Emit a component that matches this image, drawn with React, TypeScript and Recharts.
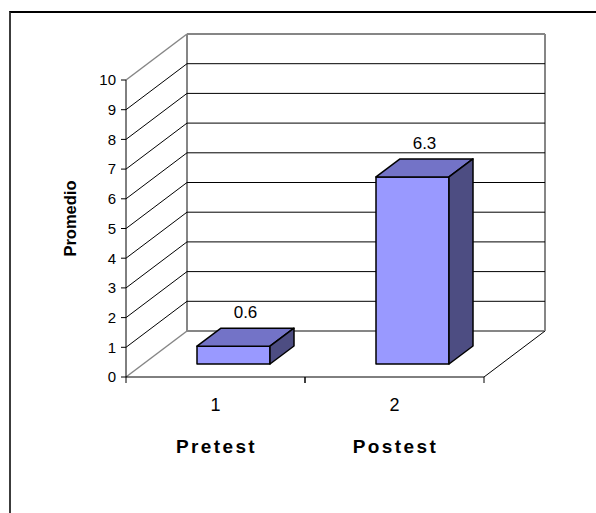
import React from 'react';
import { BarChart, Bar, XAxis, YAxis, CartesianGrid, LabelList } from 'recharts';

const categories = ['1', '2'];
const groups = ['Pretest', 'Postest'];
const promedio = [0.6, 6.3];
const yTicks = [0, 1, 2, 3, 4, 5, 6, 7, 8, 9, 10];

const FONT = '"Liberation Sans", Arial, Helvetica, sans-serif';

// depth of the whole 3D box (front plane -> back wall)
const WALL_DX = 61;
const WALL_DY = -46;
// bars sit part-way into the box, with their own depth
const BAR_SHIFT_X = 18;
const BAR_SHIFT_Y = -13;
const BAR_DX = 24;
const BAR_DY = -18;

const data = categories.map((c, i) => ({ name: c, group: groups[i], value: promedio[i] }));

// left wall diagonals + back wall lines, one set per y tick
const wallLine = (p: any) => {
  const { x1, y1, x2, index } = p;
  const top = p.y;
  const bottom = p.y !== undefined ? p.y + p.height : undefined;
  const isBase = bottom !== undefined ? Math.abs(y1 - bottom) < 0.5 : index === 0;
  const isTop = top !== undefined ? Math.abs(y1 - top) < 0.5 : index === yTicks.length - 1;
  const edge = isBase || isTop;
  const stroke = edge ? '#868686' : '#000';
  const sw = edge ? 2 : 1;
  return (
    <g key={`wall-${index}`}>
      <line x1={x1} y1={y1} x2={x1 + WALL_DX} y2={y1 + WALL_DY} stroke={stroke} strokeWidth={edge ? 1.5 : 1} />
      <line x1={x1 + WALL_DX} y1={y1 + WALL_DY} x2={x2 + WALL_DX} y2={y1 + WALL_DY} stroke={stroke} strokeWidth={sw} />
      {isBase && (
        <>
          <line x1={x2 + WALL_DX} y1={y1 + WALL_DY} x2={x2} y2={y1} stroke="#000" strokeWidth={1} />
          {top !== undefined && (
            <>
              <line x1={x1 + WALL_DX} y1={y1 + WALL_DY} x2={x1 + WALL_DX} y2={top + WALL_DY} stroke="#868686" strokeWidth={2} />
              <line x1={x2 + WALL_DX} y1={y1 + WALL_DY} x2={x2 + WALL_DX} y2={top + WALL_DY} stroke="#868686" strokeWidth={2} />
            </>
          )}
        </>
      )}
    </g>
  );
};

const Box3D = (props: any) => {
  const { x, y, width, height } = props;
  const fx = x + BAR_SHIFT_X;
  const fy = y + BAR_SHIFT_Y;
  const top = `${fx},${fy} ${fx + BAR_DX},${fy + BAR_DY} ${fx + width + BAR_DX},${fy + BAR_DY} ${fx + width},${fy}`;
  const side = `${fx + width},${fy} ${fx + width + BAR_DX},${fy + BAR_DY} ${fx + width + BAR_DX},${fy + height + BAR_DY} ${fx + width},${fy + height}`;
  return (
    <g stroke="#000" strokeWidth={1.5} strokeLinejoin="round">
      <rect x={fx} y={fy} width={width} height={height} fill="#9999FF" />
      <polygon points={top} fill="#7373C7" />
      <polygon points={side} fill="#4D4D82" />
    </g>
  );
};

const valueLabel = (p: any) => {
  const { x, y, width, value } = p;
  return (
    <text
      x={x + BAR_SHIFT_X + width / 2 + BAR_DX / 2}
      y={y + BAR_SHIFT_Y + BAR_DY - 10}
      textAnchor="middle"
      fontFamily={FONT}
      fontSize={17}
      fill="#000"
    >
      {value}
    </text>
  );
};

const CategoryTick = (props: any) => {
  const { x, y, payload, index } = props;
  const half = payload?.offset ?? 89.5;
  return (
    <g>
      <line x1={x - half} y1={y} x2={x - half} y2={y + 6} stroke="#000" />
      <line x1={x + half} y1={y} x2={x + half} y2={y + 6} stroke="#000" />
      <text x={x} y={y + 34} textAnchor="middle" fontFamily={FONT} fontSize={18} fill="#000">
        {payload.value}
      </text>
      <text
        x={x + 1}
        y={y + 76}
        textAnchor="middle"
        fontFamily={FONT}
        fontSize={19}
        fontWeight="bold"
        letterSpacing={2.4}
        fill="#000"
      >
        {groups[index] ?? data[index]?.group}
      </text>
    </g>
  );
};

const AxisTitle = (p: any) => {
  const vb = p.viewBox;
  const cx = vb.x + 10;
  const cy = vb.y + vb.height / 2 - 10;
  return (
    <text
      x={cx}
      y={cy}
      transform={`rotate(-90, ${cx}, ${cy})`}
      textAnchor="middle"
      fontFamily={FONT}
      fontSize={16.5}
      fontWeight="bold"
      fill="#000"
    >
      Promedio
    </text>
  );
};

export default function App() {
  return (
    <div style={{ position: 'relative', width: 596, height: 513, overflow: 'hidden', background: '#fff' }}>
      <style>{'body{margin:0;overflow:hidden}'}</style>
      <div
        style={{
          position: 'absolute',
          left: 9,
          top: 11,
          width: 700,
          height: 700,
          borderTop: '2px solid #000',
          borderLeft: '2px solid #3c3c3c',
        }}
      />
      <div style={{ position: 'absolute', left: 0, top: 0 }}>
        <BarChart
          width={596}
          height={513}
          data={data}
          margin={{ top: 80, right: 112, bottom: 106, left: 66 }}
          barSize={73}
        >
          <CartesianGrid vertical={false} horizontal={wallLine} />
          <XAxis
            dataKey="name"
            height={30}
            axisLine={{ stroke: '#000', strokeWidth: 1 }}
            tickLine={false}
            tickSize={0}
            tickMargin={0}
            interval={0}
            tick={<CategoryTick />}
          />
          <YAxis
            type="number"
            width={60}
            domain={[0, 10]}
            ticks={yTicks}
            interval={0}
            axisLine={{ stroke: '#000', strokeWidth: 1 }}
            tickLine={{ stroke: '#000' }}
            tickSize={5}
            tickMargin={5}
            tick={{ fontFamily: FONT, fontSize: 15, fill: '#000' }}
            label={{ content: AxisTitle }}
          />
          <Bar dataKey="value" shape={Box3D} isAnimationActive={false}>
            <LabelList dataKey="value" content={valueLabel} />
          </Bar>
        </BarChart>
      </div>
    </div>
  );
}
